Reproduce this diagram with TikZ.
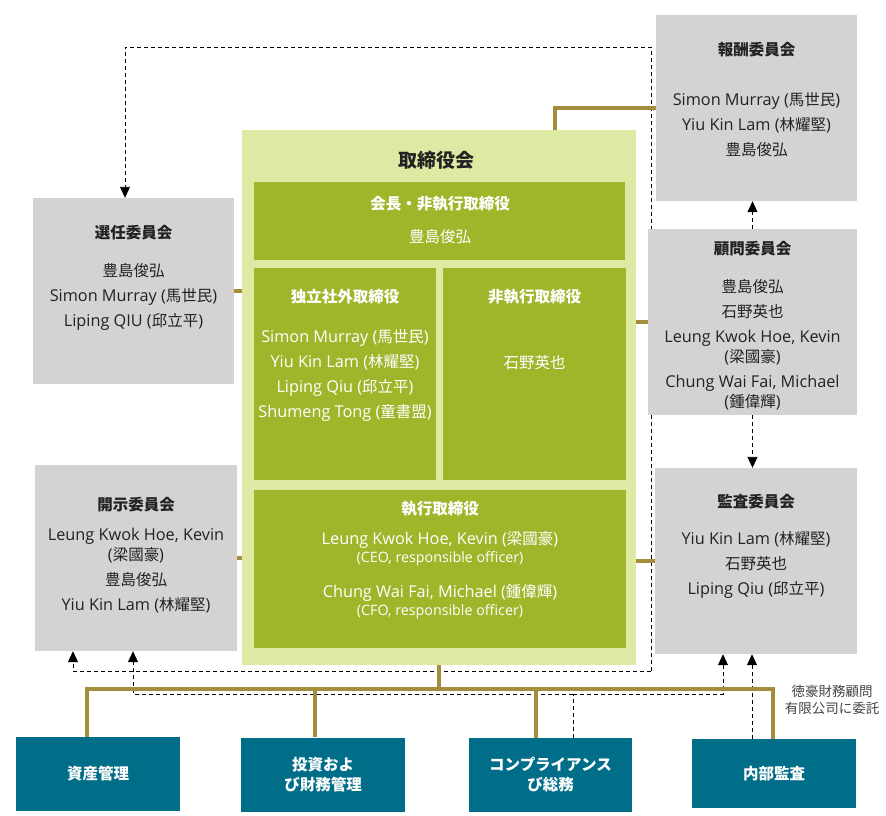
\documentclass[tikz,border=0pt]{standalone}
\usepackage{fontspec}
\setmainfont{Open Sans}[Scale=1.05]
\newfontfamily\jp{Noto Sans CJK JP}
\usepackage{tikz}
\usetikzlibrary{arrows.meta, positioning, backgrounds}
\definecolor{boardgreen}{HTML}{DEEAA3}
\definecolor{innergreen}{HTML}{A1B52B}
\definecolor{cmtgray}{HTML}{D5D2D2}
\definecolor{deptteal}{HTML}{006E89}
\definecolor{linkgold}{HTML}{A48D3D}
\definecolor{txtdark}{HTML}{222222}

\begin{document}
\begin{tikzpicture}[x=1pt, y=-1pt,
  boardbox/.style={rectangle, fill=boardgreen, inner sep=0pt},
  rolebox/.style={rectangle, fill=innergreen, inner sep=0pt},
  cmtbox/.style={rectangle, fill=cmtgray, inner sep=0pt, minimum height=186pt},
  deptbox/.style={rectangle, fill=deptteal, inner sep=0pt, minimum width=164pt, minimum height=74pt,
    text=white, align=center, font=\fontsize{15.5}{20}\selectfont\bfseries\jp},
  cmttitle/.style={inner sep=0pt, text=txtdark, font=\fontsize{15.5}{20}\selectfont\bfseries\jp},
  cmtnames/.style={inner sep=0pt, text=txtdark, align=center, font=\fontsize{15.5}{20}\selectfont},
  roletitle/.style={inner sep=0pt, text=white, font=\fontsize{15.5}{20}\selectfont\bfseries\jp},
  rolenames/.style={inner sep=0pt, text=white, align=center, font=\fontsize{15.5}{20}\selectfont},
  goldline/.style={draw=linkgold, line width=3.2pt},
  dashline/.style={draw=black, line width=0.9pt, dash pattern=on 4pt off 3pt},
  dasharrow/.style={dashline, -{Triangle[length=11pt,width=10pt]}}]
\useasboundingbox (0,0) rectangle (886,815);

% The board
\node[boardbox, minimum width=394pt, minimum height=535pt] (board) at (439,397.5) {};
\node[inner sep=0pt, text=txtdark, font=\fontsize{19}{22}\selectfont\bfseries\jp] (boardT) at (436,160) {取締役会};
\node[rolebox, minimum width=371pt, minimum height=78pt] (chair) at (439.5,221) {};
\node[roletitle] (chairT) at (440,204) {会長・非執行取締役};
\node[rolenames] (chairN) at (440,237) {\jp 豊島俊弘};
\node[rolebox, minimum width=182pt, minimum height=212pt] (indep) at (345,374) {};
\node[roletitle] (indepT) at (345,297) {独立社外取締役};
\node[rolenames] (indepN) at (345,375) {Simon Murray ({\jp 馬世民})\\[5pt]Yiu Kin Lam ({\jp 林耀堅})\\[5pt]Liping Qiu ({\jp 邱立平})\\[5pt]Shumeng Tong ({\jp 童書盟})};
\node[rolebox, minimum width=183pt, minimum height=212pt] (nonexec) at (534.5,374) {};
\node[roletitle] (nonexecT) at (534.5,297) {非執行取締役};
\node[rolenames] (nonexecN) at (534.5,363) {\jp 石野英也};
\node[rolebox, minimum width=372pt, minimum height=158pt] (exec) at (440,569) {};
\node[roletitle] (execT) at (440,509) {執行取締役};
\node[rolenames, font=\fontsize{15.5}{18}\selectfont] (execN) at (440,575) {Leung Kwok Hoe, Kevin ({\jp 梁國豪})\\{\fontsize{13.6}{18}\selectfont(CEO, responsible officer)}\\[17pt]Chung Wai Fai, Michael ({\jp 鍾偉輝})\\{\fontsize{13.6}{18}\selectfont(CFO, responsible officer)}};

% The committees
\node[cmtbox, minimum width=201pt] (sennin) at (133.5,291) {};
\node[cmttitle] (senninT) at (133.5,233) {選任委員会};
\node[cmtnames] (senninN) at (133.5,297) {{\jp 豊島俊弘}\\[5pt]Simon Murray ({\jp 馬世民})\\[5pt]Liping QIU ({\jp 邱立平})};
\node[cmtbox, minimum width=202pt] (kaiji) at (136,558) {};
\node[cmttitle] (kaijiT) at (136,505) {開示委員会};
\node[cmtnames] (kaijiN) at (136,571) {Leung Kwok Hoe, Kevin\\({\jp 梁國豪})\\[5pt]{\jp 豊島俊弘}\\[5pt]Yiu Kin Lam ({\jp 林耀堅})};
\node[cmtbox, minimum width=201pt] (hoshu) at (756.5,108) {};
\node[cmttitle] (hoshuT) at (756.5,50) {報酬委員会};
\node[cmtnames] (hoshuN) at (756.5,125) {Simon Murray ({\jp 馬世民})\\[5pt]Yiu Kin Lam ({\jp 林耀堅})\\[5pt]{\jp 豊島俊弘}};
\node[cmtbox, minimum width=209pt] (komon) at (752.5,322) {};
\node[cmttitle] (komonT) at (752.5,249) {顧問委員会};
\node[cmtnames] (komonN) at (752.5,345) {{\jp 豊島俊弘}\\[5pt]{\jp 石野英也}\\[5pt]Leung Kwok Hoe, Kevin\\({\jp 梁國豪})\\[5pt]Chung Wai Fai, Michael\\({\jp 鍾偉輝})};
\node[cmtbox, minimum width=202pt] (kansa) at (756,561) {};
\node[cmttitle] (kansaT) at (756,502) {監査委員会};
\node[cmtnames] (kansaN) at (756,564.5) {Yiu Kin Lam ({\jp 林耀堅})\\[5pt]{\jp 石野英也}\\[5pt]Liping Qiu ({\jp 邱立平})};

% The departments
\node[deptbox] (shisan) at (98,774) {資産管理};
\node[deptbox] (toshi) at (323,774.5) {投資およ\\び財務管理};
\node[deptbox, minimum width=163pt] (comp) at (550.5,775) {コンプライアンス\\び総務};
\node[deptbox, minimum height=69pt] (naibu) at (774,773.5) {内部監査};
\node[inner sep=0pt, text=txtdark!85, align=center, font=\fontsize{13.5}{17}\selectfont\jp] (itaku) at (832,699.5) {徳豪財務顧問\\有限公司に委託};

\begin{scope}[on background layer]
% The reporting lines
\coordinate (loopN) at (651,47);
\coordinate (loopS) at (651,671);
\draw[dasharrow] (loopS) -- (loopN) -| ([xshift=-8.5pt]sennin.north);
\draw[dasharrow] (loopS) -| ([xshift=-63pt]kaiji.south);
\coordinate (compJ) at (573,694);
\draw[dashline] ([xshift=22.5pt]comp.north) -- (compJ);
\draw[dasharrow] (compJ) -| ([xshift=-3pt]kaiji.south);
\draw[dasharrow] (compJ) -| ([xshift=-33pt]kansa.south);
\draw[dasharrow] ([xshift=-22pt]naibu.north) -- ([xshift=-22pt]naibu.north |- kansa.south);
\draw[dasharrow] (komon.north) -- (komon.north |- hoshu.south);
\draw[dasharrow] (komon.south) -- (komon.south |- kansa.north);
% The board links
\draw[goldline] (sennin.east) -- (sennin.east -| board.west);
\draw[goldline] (kaiji.east) -- (kaiji.east -| board.west);
\draw[goldline] ([xshift=116pt]board.north) |- (hoshu.west);
\draw[goldline] (board.east |- komon.west) -- (komon.west);
\draw[goldline] (board.east |- kansa.west) -- (kansa.west);
\coordinate (busW) at (87,689);
\coordinate (busE) at (773,689);
\coordinate (busToshi) at (315,689);
\coordinate (busComp) at (536,689);
\draw[goldline] (board.south) -- (board.south |- busW);
\draw[goldline] (busW |- shisan.north) -- (busW) -- (busE) -- (busE |- naibu.north);
\draw[goldline] (busToshi) -- (busToshi |- toshi.north);
\draw[goldline] (busComp) -- (busComp |- comp.north);
\end{scope}
\end{tikzpicture}
\end{document}
